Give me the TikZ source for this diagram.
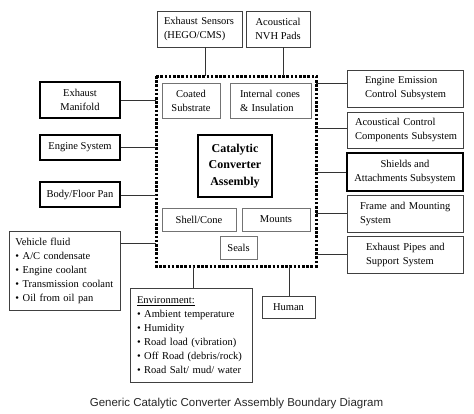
\documentclass[tikz,border=0pt]{standalone}
\usepackage{fontspec}
\setmainfont{Liberation Serif}
\newfontfamily\capfont{Liberation Sans}
\begin{document}
\begin{tikzpicture}[x=1pt,y=-1pt,
  every node/.style={font=\fontsize{10.5}{14}\selectfont, text=black, inner sep=0pt},
  thinbox/.style={draw=black!75, line width=0.9pt},
  thickbox/.style={draw=black, line width=1.8pt},
  innerbox/.style={draw=black!55, line width=0.9pt},
  conn/.style={draw=black!80, line width=0.9pt},
  boundary/.style={draw=black, line width=3pt, dash pattern=on 2.6pt off 1.6pt}
]
\useasboundingbox (0,0) rectangle (474,413);

% boundary
\coordinate (b1) at (156,76);
\coordinate (b2) at (316,266);
\draw[boundary] (b1) rectangle (b2);

% outside boxes (top)
\node[thinbox, minimum width=85, minimum height=36, text width=73, inner xsep=6, align=left] (sens) at (199.5,29) {\hspace{1pt}Exhaust Sensors\\\hspace{1pt}(HEGO/CMS)};
\node[thinbox, minimum width=64, minimum height=36, align=center] (nvh) at (278,29) {Acoustical\\NVH Pads};

% left
\node[thickbox, minimum width=80, minimum height=36, align=center] (man) at (80,100) {Exhaust\\Manifold};
\node[thickbox, minimum width=80, minimum height=25, align=center] (eng) at (80,147.5) {Engine System};
\node[thickbox, minimum width=80, minimum height=25, align=center] (body) at (80,194.5) {Body/Floor Pan};
\node[thinbox, minimum width=111, minimum height=79, text width=101, inner xsep=5, align=left] (fluid) at (64.5,270.5) {\hspace{1.5pt}Vehicle fluid\\\hspace{1.5pt}\textbullet\ A/C condensate\\\hspace{1.5pt}\textbullet\ Engine coolant\\\hspace{1.5pt}\textbullet\ Transmission coolant\\\hspace{1.5pt}\textbullet\ Oil from oil pan};

% right
\node[thinbox, minimum width=116, minimum height=37, text width=98, inner xsep=9, align=left] (emis) at (405,88.5) {\hspace{9pt}Engine Emission\\\hspace{9pt}Control Subsystem};
\node[thinbox, minimum width=116, minimum height=36, text width=106, inner xsep=5, align=left] (acc) at (405,130) {\hspace{3pt}Acoustical Control\\\hspace{3pt}Components Subsystem};
\node[thickbox, minimum width=116, minimum height=38, align=center] (shield) at (405,172) {Shields and\\Attachments Subsystem};
\node[thinbox, minimum width=116, minimum height=37, text width=102, inner xsep=7, align=left] (frame) at (405,213.5) {\hspace{6pt}Frame and Mounting\\\hspace{6pt}System};
\node[thinbox, minimum width=116, minimum height=37, text width=102, inner xsep=7, align=left] (pipes) at (405,254.5) {\hspace{12pt}Exhaust Pipes and\\\hspace{12pt}Support System};

% bottom
\node[thinbox, minimum width=122, minimum height=94, text width=108, inner xsep=7, align=left] (env) at (191,335) {\underline{Environment:}\\\textbullet\ Ambient temperature\\\textbullet\ Humidity\\\textbullet\ Road load (vibration)\\\textbullet\ Off Road (debris/rock)\\\textbullet\ Road Salt/ mud/ water};
\node[thinbox, minimum width=53, minimum height=22, align=center] (human) at (288.5,307) {Human};

% inner boxes
\node[innerbox, minimum width=58, minimum height=35, align=center] (coat) at (191,100.5) {Coated\\Substrate};
\node[innerbox, minimum width=81, minimum height=35, text width=69, inner xsep=6, align=left] (cones) at (270.5,100.5) {\hspace{4pt}Internal cones\\\hspace{4pt}\& Insulation};
\node[thickbox, minimum width=74, minimum height=62, align=center, font=\fontsize{12}{16.5}\selectfont\bfseries] (cca) at (235,166) {Catalytic\\Converter\\Assembly};
\node[innerbox, minimum width=74, minimum height=23, align=center] (shell) at (199,219.5) {Shell/Cone};
\node[innerbox, minimum width=68, minimum height=23, align=center] (mounts) at (276,219.5) {Mounts};
\node[innerbox, minimum width=37, minimum height=23, align=center] (seals) at (238.5,247.5) {Seals};

% connectors
\coordinate (tS) at (205,76);
\coordinate (tN) at (283,76);
\draw[conn] (sens.south -| tS) -- (tS);
\draw[conn] (nvh.south -| tN) -- (tN);
\coordinate (lM) at (156,100);
\coordinate (lE) at (156,147);
\coordinate (lB) at (156,195);
\coordinate (lF) at (156,243);
\draw[conn] (man.east |- lM) -- (lM);
\draw[conn] (eng.east |- lE) -- (lE);
\draw[conn] (body.east |- lB) -- (lB);
\draw[conn] (fluid.east |- lF) -- (lF);
\coordinate (rE) at (316,83);
\coordinate (rA) at (316,128);
\coordinate (rS) at (316,172);
\coordinate (rF) at (316,213);
\coordinate (rP) at (316,254);
\draw[conn] (rE) -- (emis.west |- rE);
\draw[conn] (rA) -- (acc.west |- rA);
\draw[conn] (rS) -- (shield.west |- rS);
\draw[conn] (rF) -- (frame.west |- rF);
\draw[conn] (rP) -- (pipes.west |- rP);
\coordinate (bE) at (193,266);
\coordinate (bH) at (289,266);
\draw[conn] (bE) -- (env.north -| bE);
\draw[conn] (bH) -- (human.north -| bH);

% caption
\node[font=\capfont\fontsize{11.5}{14}\selectfont, text=black!85] (cap) at (236.5,404) {Generic Catalytic Converter Assembly Boundary Diagram};
\end{tikzpicture}
\end{document}
